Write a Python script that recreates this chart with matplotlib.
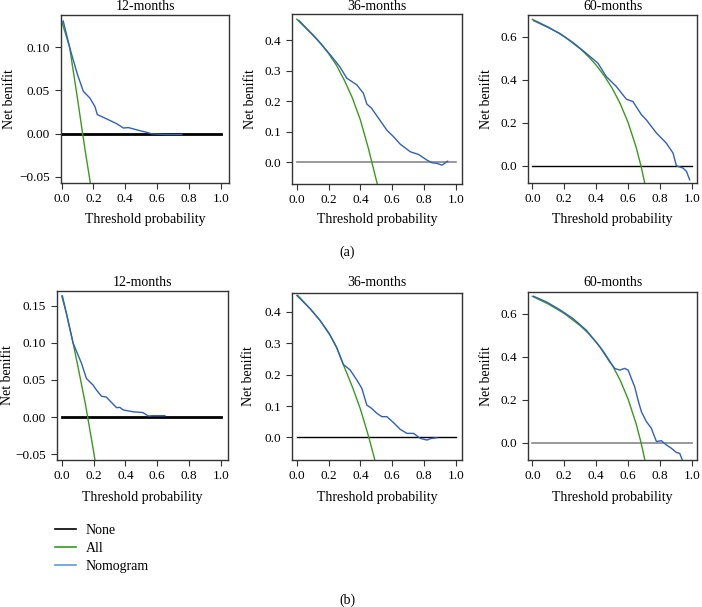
import matplotlib
matplotlib.use('Agg')
import matplotlib.pyplot as plt
from matplotlib.lines import Line2D

plt.rcParams['font.family'] = ['Liberation Serif', 'DejaVu Serif']

W, H = 702, 607

titles = ['12-months', '36-months', '60-months']

# (a) nomogram curves
a12_x = [0.01, 0.05, 0.073, 0.10, 0.136, 0.178, 0.21, 0.224, 0.283, 0.346, 0.388, 0.42, 0.49, 0.535, 0.566, 0.65, 0.755]
a12_y = [0.130, 0.100, 0.085, 0.068, 0.049, 0.041, 0.031, 0.022, 0.017, 0.0115, 0.0065, 0.007, 0.0035, 0.0015, -0.0002, -0.001, -0.001]
a36_x = [0.013, 0.126, 0.21, 0.27, 0.314, 0.377, 0.419, 0.44, 0.47, 0.514, 0.566, 0.608, 0.65, 0.713, 0.765, 0.818, 0.849, 0.88, 0.912, 0.948]
a36_y = [0.466, 0.405, 0.353, 0.314, 0.276, 0.254, 0.226, 0.191, 0.177, 0.144, 0.105, 0.0835, 0.059, 0.034, 0.025, 0.0066, -0.002, -0.004, -0.01, 0.003]
a60_x = [0.008, 0.088, 0.171, 0.255, 0.338, 0.411, 0.463, 0.526, 0.589, 0.63, 0.683, 0.714, 0.777, 0.839, 0.881, 0.902, 0.944, 0.965, 0.985]
a60_y = [0.674, 0.646, 0.615, 0.572, 0.522, 0.476, 0.414, 0.368, 0.309, 0.298, 0.237, 0.213, 0.152, 0.105, 0.059, 0.0, -0.011, -0.026, -0.065]

# (b) nomogram curves
b12_x = [0.004, 0.029, 0.05, 0.071, 0.092, 0.124, 0.155, 0.197, 0.218, 0.25, 0.28, 0.32, 0.345, 0.365, 0.387, 0.45, 0.51, 0.544, 0.575, 0.649]
b12_y = [0.1635, 0.140, 0.120, 0.10, 0.089, 0.0725, 0.052, 0.043, 0.0365, 0.028, 0.027, 0.018, 0.0126, 0.013, 0.0095, 0.007, 0.006, 0.0014, 0.0018, 0.0018]
b36_x = [0.006, 0.084, 0.147, 0.21, 0.25, 0.293, 0.335, 0.377, 0.409, 0.44, 0.47, 0.503, 0.535, 0.566, 0.608, 0.65, 0.692, 0.734, 0.776, 0.818, 0.839, 0.88]
b36_y = [0.452, 0.41, 0.372, 0.325, 0.287, 0.232, 0.215, 0.183, 0.156, 0.103, 0.0925, 0.0766, 0.066, 0.066, 0.047, 0.0255, 0.0128, 0.0128, -0.003, -0.0085, -0.004, -0.001]
b60_x = [0.008, 0.088, 0.171, 0.255, 0.338, 0.422, 0.484, 0.516, 0.547, 0.578, 0.6, 0.62, 0.641, 0.662, 0.683, 0.714, 0.745, 0.777, 0.808, 0.839, 0.87, 0.902, 0.923, 0.939]
b60_y = [0.682, 0.656, 0.62, 0.578, 0.524, 0.447, 0.377, 0.346, 0.338, 0.346, 0.338, 0.299, 0.26, 0.198, 0.144, 0.098, 0.067, 0.005, 0.009, -0.011, -0.026, -0.046, -0.05, -0.081]

# "All" curves
all12a_x = [0, 0.05, 0.10, 0.132, 0.15, 0.19]
all12a_y = [0.13, 0.10, 0.04, 0.0, -0.022, -0.068]
all36a_x = [0, 0.1, 0.15, 0.2, 0.25, 0.3, 0.35, 0.4, 0.45, 0.5, 0.52]
all36a_y = [0.47, 0.418, 0.39, 0.357, 0.318, 0.268, 0.21, 0.138, 0.045, -0.06, -0.10]
all60a_x = [0, 0.1, 0.2, 0.3, 0.35, 0.4, 0.45, 0.5, 0.55, 0.6, 0.65, 0.68, 0.70, 0.71]
all60a_y = [0.68, 0.644, 0.60, 0.543, 0.508, 0.467, 0.418, 0.36, 0.289, 0.20, 0.086, 0.0, -0.067, -0.103]
all12b_x = [0, 0.029, 0.071, 0.1, 0.15, 0.2, 0.22]
all12b_y = [0.163, 0.140, 0.10, 0.07, 0.016, -0.046, -0.073]
all36b_x = [0, 0.084, 0.147, 0.2, 0.25, 0.29, 0.35, 0.4, 0.45, 0.5]
all36b_y = [0.452, 0.41, 0.372, 0.334, 0.287, 0.235, 0.16, 0.09, 0.005, -0.09]
all60b_x = [0, 0.1, 0.2, 0.3, 0.35, 0.4, 0.45, 0.5, 0.55, 0.6, 0.65, 0.68, 0.70, 0.71]
all60b_y = [0.682, 0.646, 0.602, 0.545, 0.51, 0.469, 0.42, 0.362, 0.291, 0.202, 0.088, 0.002, -0.065, -0.101]

none_x = [0, 1]
none_y = [0, 0]

xticks = [0.0, 0.2, 0.4, 0.6, 0.8, 1.0]

panels = [
    # nomogram, all, none colour/width, yticks, ylim, xlim, box(px: left, top, right, bottom), fmt
    (a12_x, a12_y, all12a_x, all12a_y, 'black', 2.0, [-0.05, 0.0, 0.05, 0.10], (-0.057, 0.137), (-0.004, 1.052), (61, 15, 229, 183), '%.2f'),
    (a36_x, a36_y, all36a_x, all36a_y, '#888888', 1.2, [0.0, 0.1, 0.2, 0.3, 0.4], (-0.072, 0.487), (-0.03, 1.038), (292, 14, 462, 184), '%.1f'),
    (a60_x, a60_y, all60a_x, all60a_y, 'black', 1.0, [0.0, 0.2, 0.4, 0.6], (-0.08, 0.70), (-0.027, 1.031), (528, 15, 697, 183), '%.1f'),
    (b12_x, b12_y, all12b_x, all12b_y, 'black', 2.0, [-0.05, 0.0, 0.05, 0.10, 0.15], (-0.058, 0.170), (-0.03, 1.046), (57, 291, 228, 460), '%.2f'),
    (b36_x, b36_y, all36b_x, all36b_y, 'black', 1.0, [0.0, 0.1, 0.2, 0.3, 0.4], (-0.072, 0.46), (-0.03, 1.038), (292, 293, 462, 460), '%.1f'),
    (b60_x, b60_y, all60b_x, all60b_y, '#888888', 1.2, [0.0, 0.2, 0.4, 0.6], (-0.081, 0.702), (-0.027, 1.031), (528, 292, 697, 460), '%.1f'),
]

ylab_x = [10, 250, 487, 8, 249, 486]

blue = '#2f5fbf'
green = '#3a9a1c'

fig = plt.figure(figsize=(W / 100, H / 100), dpi=100)

for i, (nx, ny, ax_, ay_, ncol, nlw, yt, yl, xl, box, fmt) in enumerate(panels):
    l, t, r, b = box
    ax = fig.add_axes([l / W, 1 - b / H, (r - l) / W, (b - t) / H])
    ax.plot(none_x, none_y, color=ncol, lw=nlw)
    ax.plot(ax_, ay_, color=green, lw=1.0)
    ax.plot(nx, ny, color=blue, lw=1.0)
    ax.set_xlim(*xl)
    ax.set_ylim(*yl)
    ax.set_xticks(xticks)
    ax.set_xticklabels(['%.1f' % v for v in xticks])
    ax.set_yticks(yt)
    ax.set_yticklabels([(fmt % v).replace('-', '\u2212') for v in yt])
    ax.tick_params(axis='both', labelsize=9.5, length=4, width=0.8, color='#333333')
    ax.tick_params(axis='x', pad=3)
    ax.tick_params(axis='y', pad=4)
    for s in ax.spines.values():
        s.set_linewidth(1.0)
        s.set_color('#333333')
    cx = (l + r) / 2
    title_base = 10 if i < 3 else 286
    fig.text(cx / W, 1 - title_base / H, titles[i % 3], ha='center', va='baseline', fontsize=10)
    xl_y = 220 if i < 3 else 498
    fig.text(cx / W, 1 - xl_y / H, 'Threshold probability', ha='center', va='center', fontsize=10)
    fig.text(ylab_x[i] / W, 1 - ((t + b) / 2) / H, 'Net benifit', ha='center', va='center',
             rotation=90, fontsize=10)

fig.text(347 / W, 1 - 252 / H, '(a)', ha='center', va='center', fontsize=10)
fig.text(347 / W, 1 - 600 / H, '(b)', ha='center', va='center', fontsize=10)

handles = [Line2D([], [], color='black', lw=1.2),
           Line2D([], [], color=green, lw=1.2),
           Line2D([], [], color='#5a9be0', lw=1.2)]
fig.legend(handles, ['None', 'All', 'Nomogram'], loc='upper left',
           bbox_to_anchor=(55 / W, 1 - 524 / H), frameon=False, fontsize=10,
           handlelength=1.5, handletextpad=0.7, labelspacing=0.35,
           borderpad=0, borderaxespad=0)

fig.savefig('out.png', dpi=100)
